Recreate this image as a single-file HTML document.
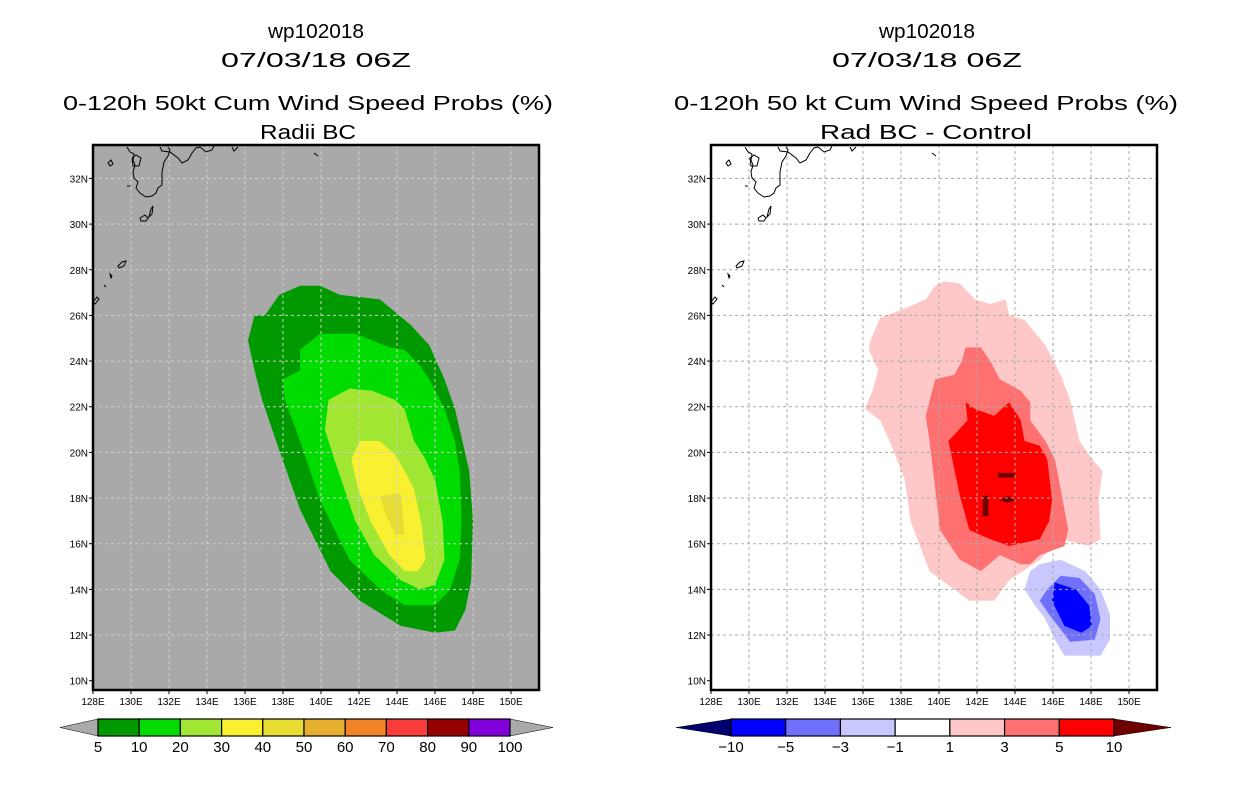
<!DOCTYPE html>
<html><head><meta charset="utf-8"><style>
body{margin:0;background:#fff;width:1236px;height:800px;overflow:hidden}
svg text{font-family:"Liberation Sans",sans-serif;fill:#000}
</style></head><body>
<svg id="s" width="1236" height="800" xmlns="http://www.w3.org/2000/svg">
<g font-size="20">
<text x="316" y="38" text-anchor="middle" textLength="96" lengthAdjust="spacingAndGlyphs">wp102018</text>
<text x="316" y="67" text-anchor="middle" textLength="190" lengthAdjust="spacingAndGlyphs">07/03/18 06Z</text>
<text x="308" y="110" text-anchor="middle" textLength="490" lengthAdjust="spacingAndGlyphs">0-120h 50kt Cum Wind Speed Probs (%)</text>
<text x="308" y="139" text-anchor="middle" textLength="96" lengthAdjust="spacingAndGlyphs">Radii BC</text>
</g>
<g font-size="20">
<text x="927" y="38" text-anchor="middle" textLength="96" lengthAdjust="spacingAndGlyphs">wp102018</text>
<text x="927" y="67" text-anchor="middle" textLength="190" lengthAdjust="spacingAndGlyphs">07/03/18 06Z</text>
<text x="926" y="110" text-anchor="middle" textLength="504" lengthAdjust="spacingAndGlyphs">0-120h 50 kt Cum Wind Speed Probs (%)</text>
<text x="926" y="139" text-anchor="middle" textLength="212" lengthAdjust="spacingAndGlyphs">Rad BC - Control</text>
</g>
<g id="L"></g>
<g id="R"></g>
<g id="CB"></g>
</svg>
<script>
// ---- data ----
const lonTicks=[128,130,132,134,136,138,140,142,144,146,148,150];
const latTicks=[10,12,14,16,18,20,22,24,26,28,30,32];
const probLevels=[5,10,20,30,40];
const probColors=["#009a00","#00dc00","#a0e632","#faf032","#e6dc32"];
const prob5=[[138.9,27.3],[139.95,27.3],[141.0,26.9],[143.1,26.7],[144.7,25.6],[145.7,24.7],[146.5,23.2],[147.05,21.9],[147.8,19.2],[148.0,17.0],[147.9,14.4],[147.6,13.1],[147.05,12.2],[146.0,12.1],[144.2,12.4],[142.05,13.5],[140.5,14.8],[138.9,17.5],[137.8,20.1],[136.9,22.3],[136.5,23.6],[136.16,24.9],[136.5,26.0],[137.05,26.0],[137.8,26.9]];
const prob10=[[139.95,25.2],[141.8,25.2],[143.6,24.6],[144.4,24.5],[145.2,23.8],[145.7,23.2],[146.5,21.9],[147.05,20.5],[147.3,19.2],[147.4,17.0],[147.3,15.3],[146.8,14.0],[146.0,13.3],[144.4,13.3],[143.1,14.0],[141.5,15.3],[139.95,17.9],[138.9,20.5],[138.1,22.3],[138.0,23.2],[138.9,23.6],[138.9,24.5]];
const prob20=[[141.5,22.8],[142.7,22.7],[143.9,22.3],[144.4,21.9],[144.9,20.5],[145.5,19.7],[146.0,18.8],[146.4,17.0],[146.5,15.3],[146.0,14.2],[145.2,14.0],[144.2,14.4],[142.8,15.5],[141.8,17.0],[140.7,19.7],[140.2,21.0],[140.4,22.3]];
const prob30=[[142.05,20.5],[143.1,20.5],[143.9,19.9],[144.4,19.2],[144.9,18.4],[145.3,16.8],[145.5,15.3],[145.1,14.8],[144.4,14.8],[143.6,15.5],[142.6,17.0],[141.95,18.4],[141.6,19.7]];
const prob40=[[143.1,18.1],[144.2,18.2],[144.4,16.4],[143.9,16.4],[143.4,17.3]];
const diffLevels=[1,3,5,10,-1,-3,-5];
const diffColors=["#ffc8c8","#ff7070","#ff0000","#6e0000","#c8c8ff","#7070ff","#0000ff"];
const diffP1=[[136.4,24.9],[136.9,25.9],[137.9,26.2],[139.3,26.7],[139.8,27.3],[140.3,27.5],[141.1,27.4],[141.9,26.7],[142.7,26.5],[143.5,26.7],[143.7,26.0],[144.5,25.8],[145.6,24.7],[146.4,23.4],[146.9,22.3],[147.4,20.5],[148.05,19.7],[148.6,19.2],[148.4,17.9],[148.5,16.2],[147.9,15.9],[146.4,16.2],[145.3,15.3],[143.7,14.4],[142.9,13.5],[141.6,13.5],[140.8,14.0],[139.5,14.8],[138.5,17.0],[138.2,18.8],[137.4,20.5],[136.9,21.4],[136.1,21.9],[136.5,22.7],[136.8,23.6],[136.3,24.5]];
const diffP3=[[141.4,24.6],[142.2,24.6],[142.7,24.0],[143.2,23.2],[144.3,22.7],[144.8,22.2],[144.8,21.4],[145.6,20.5],[146.1,19.7],[146.4,18.4],[146.8,16.6],[146.6,15.9],[145.3,15.5],[144.8,15.1],[144.3,15.1],[143.2,15.5],[142.2,14.8],[141.1,15.3],[140.05,16.6],[139.8,18.4],[139.5,20.5],[139.3,21.6],[139.8,23.2],[140.8,23.4],[141.2,24.0]];
const diffP5=[[141.4,22.2],[141.9,21.9],[142.9,21.6],[143.7,22.2],[144.3,21.4],[144.5,20.5],[145.3,20.3],[145.7,19.7],[145.95,17.9],[145.8,17.0],[145.3,16.2],[143.7,15.9],[142.7,16.2],[141.6,16.6],[141.1,18.1],[140.6,20.1],[140.5,20.5],[141.5,21.4]];
const diffP10a=[[143.1,19.1],[144.0,19.1],[144.0,18.9],[143.1,18.9]];
const diffP10b=[[143.6,18.1],[144.1,17.9],[143.6,17.8],[143.2,17.9]];
const diffP10c=[[142.3,18.1],[142.6,18.1],[142.6,17.2],[142.3,17.2]];
const diffM1=[[145.3,15.1],[146.4,15.3],[147.7,14.8],[148.5,14.0],[149.0,12.9],[149.0,11.8],[148.5,11.1],[146.6,11.1],[146.1,11.8],[145.6,12.7],[145.05,13.3],[144.5,14.0],[144.8,14.8]];
const diffM3=[[146.4,14.6],[147.4,14.5],[148.2,13.8],[148.5,12.7],[148.2,11.8],[146.9,11.7],[145.8,12.9],[145.3,13.5],[145.7,14.0]];
const diffM5=[[146.1,14.3],[147.2,14.0],[147.9,13.3],[148.05,12.4],[147.5,12.1],[146.6,12.4],[145.95,13.5]];
const probTicks=[5,10,20,30,40,50,60,70,80,90,100];
const probBarColors=["#009a00","#00dc00","#a0e632","#faf032","#e6dc32","#e6af2d","#f08228","#fa3c3c","#960000","#8200dc"];
const diffTicks=[-10,-5,-3,-1,1,3,5,10];
const diffBarColors=["#0000ff","#7070ff","#c8c8ff","#ffffff","#ffc8c8","#ff7070","#ff0000"];
// ---- axes ----
const NS="http://www.w3.org/2000/svg";
const FX0=93,FY0=145,FW=446,FH=545;
const xs=(lon,off)=>off+93+(lon-128)*19;
const ys=lat=>680.7-(lat-10)*22.83;
function mk(tag,attrs,parent){const e=document.createElementNS(NS,tag);for(const k in attrs)e.setAttribute(k,attrs[k]);parent.appendChild(e);return e;}
function poly(pts,off,fill,g){return mk("polygon",{points:pts.map(p=>xs(p[0],off).toFixed(1)+","+ys(p[1]).toFixed(1)).join(" "),fill:fill},g);}
function coast(off,g){
 const cg=mk("g",{fill:"none",stroke:"#000","stroke-width":"1"},g);
 
 
 const paths=["M127 147 L130 152 L134 154 L133 160 L135 165 L133 172 L134 178 L138 182 L136 188 L140 193 L146 197 L152 196 L156 193 L158 188 L162 185 L162 172 L164 162 L168 156 L170 150 L168 147",
 "M160 147 L162 151 L170 152 L178 158 L182 163 L188 160 L192 153 L196 148 L200 147",
 "M200 147 L206 152 L212 150 L214 146","M232 147 L234 151 L238 147",
 "M132 158 L136 155 L141 158 L139 166 L133 166 Z","M108 163 L111 160 L113 164 L110 166 Z",
 "M140 218 L145 215 L148 218 L146 221 L141 221 Z","M149 217 L151 209 L153 206 L152 214 Z",
 "M118 266 L122 262 L126 261 L124 266 L119 268 Z","M110 274 L112 276 L111 278 Z","M104 285 L106 287 Z",
 "M93 302 L97 297 L99 299 L95 304 Z","M127 186 L130 186","M314 153 L318 156"];
 paths.forEach(d=>{mk("path",{d:d,transform:"translate("+off+",0)"},cg);});
}
function grid(off,g,col){
 const gg=mk("g",{stroke:col,"stroke-width":"1","stroke-dasharray":"3,3"},g);
 
 
 lonTicks.slice(1).forEach(l=>mk("line",{x1:xs(l,off),x2:xs(l,off),y1:FY0,y2:FY0+FH},gg));
 latTicks.slice(1).forEach(l=>mk("line",{x1:off+FX0,x2:off+FX0+FW,y1:ys(l),y2:ys(l)},gg));
}
function axes(off,g){
 mk("rect",{x:off+FX0,y:FY0,width:FW,height:FH,fill:"none",stroke:"#000","stroke-width":"2.5"},g);
 const ag=mk("g",{"font-size":"10"},g);
 
 
 lonTicks.forEach(l=>{
  mk("line",{x1:xs(l,off),x2:xs(l,off),y1:FY0+FH,y2:FY0+FH+4,stroke:"#000"},ag);
  const t=mk("text",{x:xs(l,off),y:705,"text-anchor":"middle"},ag);t.textContent=l+"E";
  
  
 });
 latTicks.forEach(l=>{
  mk("line",{x1:off+FX0-4,x2:off+FX0,y1:ys(l),y2:ys(l),stroke:"#000"},ag);
  const t=mk("text",{x:off+FX0-5,y:ys(l)+4,"text-anchor":"end"},ag);t.textContent=l+"N";
  
  
 });
}
const L=document.getElementById("L");
mk("rect",{x:FX0,y:FY0,width:FW,height:FH,fill:"#a9a9a9"},L);
[prob5,prob10,prob20,prob30,prob40].forEach((p,i)=>{const e=poly(p,0,probColors[i],L);
 
 });
grid(0,L,"#d0d0d0");coast(0,L);axes(0,L);
const R=document.getElementById("R");const RO=618;
mk("rect",{x:RO+FX0,y:FY0,width:FW,height:FH,fill:"#fff"},R);
[diffP1,diffP3,diffP5,diffP10a,diffP10b,diffP10c].forEach((p,i)=>{const lv=Math.min(i,3);const e=poly(p,RO,diffColors[lv],R);
 
 });
[diffM1,diffM3,diffM5].forEach((p,i)=>{const e=poly(p,RO,diffColors[4+i],R);
 
 });
grid(RO,R,"#aaaaaa");coast(RO,R);axes(RO,R);
const CB=document.getElementById("CB");
function bar(x0,x1,tl,tr,cols,ticks,lc,rc,name){
 const g=mk("g",{},CB);
 
 
 const n=cols.length,w=(x1-x0)/n,y0=719,y1=736,ym=727.5;
 mk("polygon",{points:`${tl},${ym} ${x0},${y0} ${x0},${y1}`,fill:lc,stroke:"#000","stroke-width":"0.5"},g);
 mk("polygon",{points:`${tr},${ym} ${x1},${y0} ${x1},${y1}`,fill:rc,stroke:"#000","stroke-width":"0.5"},g);
 cols.forEach((c,i)=>{const r=mk("rect",{x:x0+i*w,y:y0,width:w,height:y1-y0,fill:c,stroke:"#000","stroke-width":"1.2"},g);
  
  });
 ticks.forEach((t,i)=>{const e=mk("text",{x:x0+i*w,y:752,"text-anchor":"middle","font-size":"15"},g);e.textContent=String(t).replace("-","\u2212");
  
  });
}
bar(98,510,60,553,probBarColors,probTicks,"#aaaaaa","#aaaaaa","prob-colorbar");
bar(731,1114,676,1171,diffBarColors,diffTicks,"#00006e","#6e0000","diff-colorbar");
</script>
</body></html>
